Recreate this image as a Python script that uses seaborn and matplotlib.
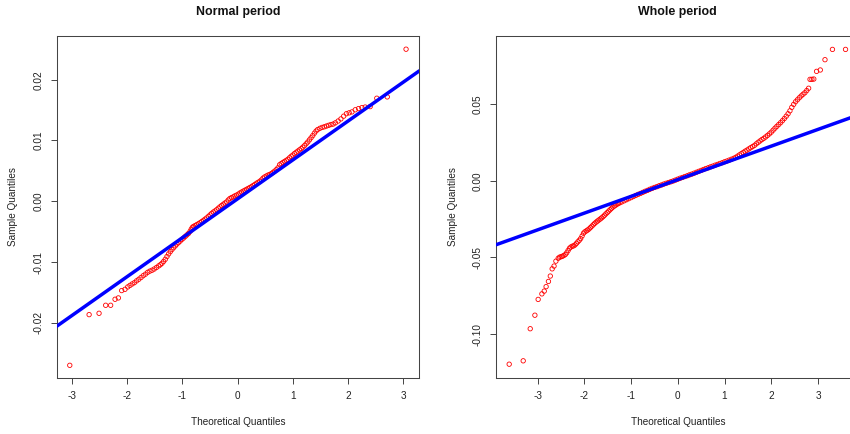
import matplotlib
matplotlib.use("Agg")
import matplotlib.pyplot as plt
import seaborn as sns

# Normal period: theoretical vs sample quantiles
normal_theo = [
    -3.04, -2.69, -2.51, -2.39, -2.30, -2.22, -2.16, -2.10, -2.04, -1.99,
    -1.95, -1.91, -1.87, -1.83, -1.79, -1.75, -1.71, -1.67, -1.63, -1.59,
    -1.55, -1.51, -1.47, -1.43, -1.40, -1.37, -1.34, -1.31, -1.28, -1.25,
    -1.22, -1.19, -1.16, -1.13, -1.10, -1.07, -1.04, -1.01, -0.98, -0.95,
    -0.92, -0.89, -0.86, -0.84, -0.82, -0.80, -0.77, -0.74, -0.71, -0.68,
    -0.65, -0.62, -0.59, -0.56, -0.53, -0.50, -0.47, -0.44, -0.41, -0.38,
    -0.35, -0.32, -0.29, -0.26, -0.23, -0.20, -0.17, -0.14, -0.11, -0.08,
    -0.05, -0.02, 0.01, 0.04, 0.07, 0.10, 0.13, 0.16, 0.19, 0.22,
    0.25, 0.28, 0.31, 0.34, 0.37, 0.40, 0.43, 0.46, 0.49, 0.52,
    0.55, 0.58, 0.61, 0.64, 0.67, 0.70, 0.73, 0.76, 0.79, 0.82,
    0.85, 0.88, 0.91, 0.94, 0.97, 1.00, 1.03, 1.06, 1.09, 1.12,
    1.15, 1.18, 1.21, 1.24, 1.27, 1.30, 1.33, 1.36, 1.39, 1.42,
    1.45, 1.49, 1.53, 1.57, 1.61, 1.65, 1.69, 1.73, 1.77, 1.82,
    1.87, 1.92, 1.97, 2.02, 2.07, 2.13, 2.19, 2.25, 2.31, 2.40,
    2.52, 2.71, 3.05,
]
normal_sample = [
    -0.0270, -0.01866, -0.01844, -0.01712, -0.01712, -0.01613, -0.01591, -0.01470, -0.01449, -0.01410,
    -0.01385, -0.01361, -0.01340, -0.01310, -0.01284, -0.01255, -0.01225, -0.01200, -0.01170, -0.01150,
    -0.01135, -0.01115, -0.01090, -0.01064, -0.01045, -0.01021, -0.00990, -0.00955, -0.00910, -0.00867,
    -0.00830, -0.00795, -0.00765, -0.00735, -0.00705, -0.00680, -0.00655, -0.00628, -0.00605, -0.00580,
    -0.00555, -0.00530, -0.00495, -0.00460, -0.00430, -0.00415, -0.00400, -0.00385, -0.00370, -0.00353,
    -0.00335, -0.00315, -0.00295, -0.00275, -0.00250, -0.00225, -0.00200, -0.00178, -0.00160, -0.00140,
    -0.00115, -0.00092, -0.00070, -0.00050, -0.00030, -0.00012, 0.00020, 0.00045, 0.00060, 0.00072,
    0.00088, 0.00100, 0.00115, 0.00135, 0.00150, 0.00165, 0.00180, 0.00195, 0.00210, 0.00225,
    0.00240, 0.00258, 0.00275, 0.00295, 0.00310, 0.00328, 0.00350, 0.00380, 0.00400, 0.00415,
    0.00430, 0.00440, 0.00455, 0.00475, 0.00495, 0.00520, 0.00550, 0.00600, 0.00620, 0.00638,
    0.00655, 0.00672, 0.00690, 0.00715, 0.00740, 0.00760, 0.00785, 0.00805, 0.00825, 0.00845,
    0.00865, 0.00890, 0.00915, 0.00945, 0.00975, 0.01010, 0.01045, 0.01080, 0.01120, 0.01155,
    0.01180, 0.01200, 0.01215, 0.01225, 0.01238, 0.01250, 0.01262, 0.01270, 0.01290, 0.01320,
    0.01355, 0.01400, 0.01440, 0.01455, 0.01470, 0.01505, 0.01525, 0.01540, 0.01550, 0.01557,
    0.01695, 0.01717, 0.02502,
]
normal_line = (0.0004, 0.0064)  # intercept, slope of the reference line

# Whole period
whole_theo = [
    -3.61, -3.31, -3.16, -3.06, -2.99, -2.91, -2.86, -2.82, -2.77, -2.73,
    -2.69, -2.65, -2.61, -2.56, -2.53,
    -2.50, -2.47, -2.44, -2.41, -2.38, -2.35, -2.32, -2.29, -2.26, -2.23,
    -2.20, -2.17, -2.14, -2.11, -2.08, -2.05, -2.02, -1.99, -1.96, -1.93,
    -1.90, -1.87, -1.84, -1.81, -1.78, -1.75, -1.72, -1.69, -1.66, -1.63,
    -1.60, -1.57, -1.54, -1.51, -1.48, -1.45, -1.42, -1.39, -1.36, -1.33,
    -1.30, -1.27, -1.24,
    -1.20, -1.15, -1.10, -1.05, -1.00, -0.95, -0.90, -0.85, -0.80, -0.75,
    -0.70, -0.65, -0.60, -0.55, -0.50, -0.45, -0.40, -0.35, -0.30, -0.25,
    -0.20, -0.15, -0.10, -0.05, 0.00, 0.05, 0.10, 0.15, 0.20, 0.25,
    0.30, 0.35, 0.40, 0.45, 0.50, 0.55, 0.60, 0.65, 0.70, 0.75,
    0.80, 0.85, 0.90, 0.95, 1.00, 1.05, 1.10, 1.15,
    1.20, 1.24, 1.28, 1.32, 1.36, 1.40, 1.44, 1.48, 1.52, 1.56,
    1.60, 1.64, 1.68, 1.72, 1.76, 1.80, 1.84, 1.88, 1.92, 1.96,
    2.00, 2.04, 2.08, 2.12, 2.16, 2.20, 2.24, 2.28, 2.32, 2.36,
    2.40, 2.44, 2.48, 2.52, 2.56, 2.60, 2.64, 2.68, 2.72, 2.76,
    2.80,
    2.83, 2.87, 2.91, 2.97, 3.05, 3.15, 3.31, 3.59,
]
whole_sample = [
    -0.1195, -0.1173, -0.0964, -0.0876, -0.0773, -0.0737, -0.0719, -0.0690, -0.0656, -0.0621,
    -0.0574, -0.0556, -0.0524, -0.0505, -0.0498,
    -0.0495, -0.0492, -0.0487, -0.0481, -0.0470, -0.0455, -0.0440, -0.0432, -0.0427, -0.0424,
    -0.0418, -0.0408, -0.0398, -0.0388, -0.0377, -0.0360, -0.0342, -0.0333, -0.0327, -0.0321,
    -0.0314, -0.0305, -0.0296, -0.0287, -0.0278, -0.0270, -0.0263, -0.0256, -0.0249, -0.0242,
    -0.0234, -0.0225, -0.0216, -0.0207, -0.0198, -0.0189, -0.0180, -0.0172, -0.0165, -0.0159,
    -0.0153, -0.0148, -0.0143,
    -0.0138, -0.0131, -0.0124, -0.0117, -0.0110, -0.0103, -0.0096, -0.0089, -0.0083, -0.0076,
    -0.0069, -0.0063, -0.0056, -0.0050, -0.0044, -0.0039, -0.0033, -0.0028, -0.0022, -0.0017,
    -0.0012, -0.0007, -0.0002, 0.0004, 0.0010, 0.0016, 0.0021, 0.0027, 0.0032, 0.0038,
    0.0043, 0.0049, 0.0055, 0.0061, 0.0067, 0.0073, 0.0079, 0.0084, 0.0090, 0.0095,
    0.0101, 0.0106, 0.0112, 0.0117, 0.0123, 0.0128, 0.0134, 0.0140,
    0.0146, 0.0152, 0.0160, 0.0168, 0.0176, 0.0184, 0.0192, 0.0199, 0.0207, 0.0215,
    0.0222, 0.0230, 0.0240, 0.0250, 0.0259, 0.0268, 0.0276, 0.0285, 0.0295, 0.0305,
    0.0316, 0.0329, 0.0342, 0.0354, 0.0366, 0.0378, 0.0391, 0.0405, 0.0420, 0.0436,
    0.0455, 0.0478, 0.0497, 0.0514, 0.0527, 0.0540, 0.0552, 0.0563, 0.0573, 0.0587,
    0.0602,
    0.0660, 0.0660, 0.0662, 0.0712, 0.0721, 0.0788, 0.0855, 0.0855,
]
whole_line = (0.0007, 0.0109)

x_ticks = [-3, -2, -1, 0, 1, 2, 3]
x_labels = ["-3", "-2", "-1", "0", "1", "2", "3"]
normal_yticks = [-0.02, -0.01, 0.0, 0.01, 0.02]
normal_ylabels = ["-0.02", "-0.01", "0.00", "0.01", "0.02"]
whole_yticks = [-0.10, -0.05, 0.0, 0.05]
whole_ylabels = ["-0.10", "-0.05", "0.00", "0.05"]

sns.set_theme(style="ticks")
plt.rcParams["font.family"] = ["Liberation Sans", "DejaVu Sans"]
plt.rcParams["axes.unicode_minus"] = False


def qq_panel(ax, theo, sample, line, title, xlim, ylim, yticks, ylabels, ylab_x):
    assert len(theo) == len(sample)
    sns.scatterplot(x=theo, y=sample, ax=ax, marker="o", s=10,
                    facecolor="none", edgecolor="#ff0000", linewidth=0.6,
                    zorder=2)
    ax.axline((0, line[0]), slope=line[1], color="#0000ff", lw=2.5, zorder=3)
    ax.set_xlim(*xlim)
    ax.set_ylim(*ylim)
    ax.set_xticks(x_ticks, x_labels)
    ax.set_yticks(yticks, ylabels)
    ax.tick_params(axis="both", direction="out", length=4.3, width=0.7,
                   color="#444444", labelsize=7.2, labelcolor="#222222", pad=5.3)
    ax.tick_params(axis="y", labelrotation=90)
    for lbl in ax.get_yticklabels():
        lbl.set_va("center")
    for sp in ax.spines.values():
        sp.set_visible(True)
        sp.set_color("#444444")
        sp.set_linewidth(0.75)
    ax.text(0.5, 1.0702, title, transform=ax.transAxes, ha="center",
            va="center", fontsize=8.9, fontweight="bold", color="#111111")
    ax.set_xlabel("Theoretical Quantiles", fontsize=7.2, color="#222222")
    ax.set_ylabel("Sample Quantiles", fontsize=7.2, color="#222222")
    ax.xaxis.label.set_va("center")
    ax.yaxis.label.set_va("center")
    ax.xaxis.set_label_coords(0.5, -0.1288)
    ax.yaxis.set_label_coords(ylab_x, 0.5)


fig = plt.figure(figsize=(8.5, 4.34), dpi=100)
ax1 = fig.add_axes([0.0667, 0.1297, 0.4266, 0.7876])
ax2 = fig.add_axes([0.5835, 0.1297, 0.4279, 0.7876])

qq_panel(ax1, normal_theo, normal_sample, normal_line, "Normal period",
         (-3.277, 3.29), (-0.02904, 0.02721), normal_yticks, normal_ylabels, -0.1197)
qq_panel(ax2, whole_theo, whole_sample, whole_line, "Whole period",
         (-3.893, 3.893), (-0.1283, 0.0943), whole_yticks, whole_ylabels, -0.1174)

fig.savefig("out.png", dpi=100, facecolor="white")
